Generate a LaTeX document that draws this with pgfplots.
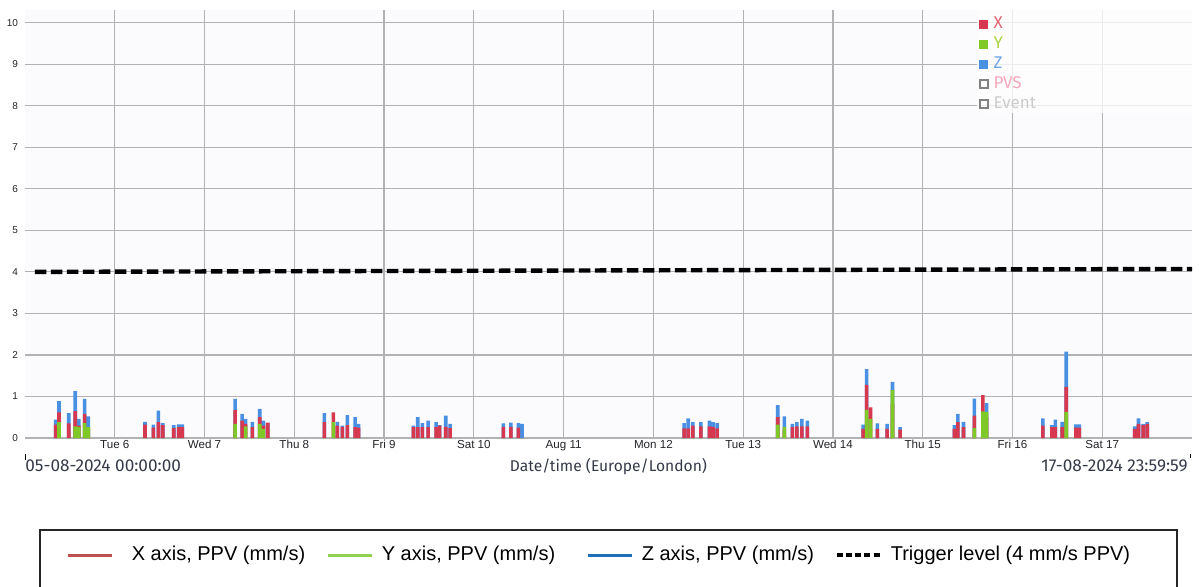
\documentclass[border=0pt]{standalone}
\usepackage{fontspec}
\setmainfont{Liberation Sans}
\newfontfamily\fira{Fira Sans}
\usepackage{pgfplots}
\pgfplotsset{compat=1.18}
\usepackage{pgfplotstable}

\definecolor{cX}{RGB}{214,56,80}
\definecolor{cY}{RGB}{126,200,40}
\definecolor{cZ}{RGB}{74,144,226}
\definecolor{tX}{RGB}{226,100,116}
\definecolor{tY}{RGB}{170,214,70}
\definecolor{tZ}{RGB}{112,166,230}
\definecolor{tP}{RGB}{244,166,186}
\definecolor{tE}{RGB}{204,204,204}
\definecolor{boxg}{RGB}{130,130,130}
\definecolor{gridc}{RGB}{178,178,178}
\definecolor{bgc}{RGB}{251,251,254}
\definecolor{tickc}{RGB}{35,35,40}
\definecolor{labc}{RGB}{52,58,72}
\definecolor{lX}{RGB}{192,80,77}
\definecolor{lY}{RGB}{146,208,80}
\definecolor{lZ}{RGB}{31,111,184}

\pgfplotstableread{
x X Y Z
0.342 0.32 0 0.44
0.379 0.62 0.38 0.89
0.487 0.35 0 0.60
0.560 0.65 0.28 1.13
0.600 0.30 0.27 0.46
0.665 0.58 0.36 0.94
0.705 0.24 0.26 0.52
1.337 0.32 0 0.39
1.430 0.25 0 0.32
1.485 0.38 0 0.66
1.534 0.31 0 0.36
1.657 0.24 0 0.31
1.712 0.26 0 0.33
1.752 0.26 0 0.33
2.340 0.67 0.34 0.94
2.418 0.42 0 0.58
2.458 0.34 0.28 0.46
2.533 0.26 0 0.39
2.615 0.50 0.34 0.70
2.655 0.30 0.22 0.42
2.704 0.37 0 0.36
3.335 0.38 0 0.60
3.435 0.62 0.38 0
3.480 0.30 0 0.39
3.535 0.27 0 0.30
3.591 0.31 0 0.55
3.677 0.26 0 0.50
3.717 0.25 0 0.34
4.326 0.26 0 0.30
4.375 0.26 0 0.50
4.427 0.26 0 0.36
4.490 0.26 0 0.42
4.579 0.26 0 0.38
4.619 0.30 0 0.31
4.687 0.27 0 0.54
4.735 0.24 0 0.34
5.329 0.27 0 0.35
5.412 0.27 0 0.37
5.496 0.25 0 0.36
5.536 0 0 0.34
7.343 0.23 0 0.36
7.388 0.23 0 0.47
7.440 0.30 0 0.38
7.529 0.28 0 0.38
7.625 0.28 0 0.42
7.665 0.27 0 0.38
7.710 0.23 0 0.36
8.385 0.50 0.32 0.79
8.460 0.20 0.27 0.52
8.549 0.26 0 0.34
8.598 0.28 0 0.38
8.654 0.28 0 0.46
8.716 0.28 0 0.42
9.337 0.22 0 0.32
9.375 1.28 0.68 1.66
9.420 0.74 0.46 0
9.496 0.22 0 0.35
9.604 0.22 0 0.34
9.664 0.83 1.15 1.35
9.749 0.20 0 0.26
10.354 0.22 0 0.31
10.392 0.38 0 0.58
10.455 0.26 0 0.39
10.576 0.54 0.24 0.95
10.671 1.03 0.64 0
10.711 0.50 0.63 0.84
11.339 0.30 0 0.47
11.440 0.26 0 0.31
11.478 0.26 0 0.44
11.554 0.26 0 0.39
11.599 1.23 0.63 2.08
11.707 0.25 0 0.33
11.745 0.25 0 0.33
12.360 0.22 0 0.28
12.404 0.34 0 0.47
12.456 0.31 0 0.34
12.501 0.34 0 0.38
}\bars

\begin{document}
\begin{tikzpicture}[x=1pt,y=1pt]
\useasboundingbox (0,0) rectangle (600,293);
\begin{axis}[
  at={(12.5pt,74pt)}, anchor=south west,
  scale only axis, width=583.5pt, height=213.9pt,
  xmin=0, xmax=13, ymin=0, ymax=10.3,
  xtick={1,...,12},
  xticklabels={Tue 6, Wed 7, Thu 8, Fri 9, Sat 10, Aug 11, Mon 12, Tue 13, Wed 14, Thu 15, Fri 16, Sat 17},
  ytick={0,...,10},
  grid=major,
  major grid style={gridc, line width=0.6pt},
  axis line style={draw=none},
  tick style={draw=none},
  axis background/.style={fill=bgc},
  x tick label style={font=\fontsize{5.8}{6}\selectfont, text=tickc, inner sep=1pt, anchor=north},
  y tick label style={font=\fontsize{5}{6}\selectfont, text=tickc},
  /pgf/number format/assume math mode=true,
  legend cell align=left,
  legend style={at={(axis description cs:0.8175,0.99)}, anchor=north west,
    draw=none, fill=none, inner sep=0pt,
    font=\fira\fontsize{8.5}{10}\selectfont, row sep=0.6pt,
    nodes={inner xsep=2.5pt, inner ysep=1pt}},
]
\addplot[ybar, bar width=0.04, bar shift=0pt, fill=cZ, draw=none, forget plot] table[x=x, y=Z]{\bars};
\addplot[ybar, bar width=0.04, bar shift=0pt, fill=cX, draw=none, forget plot] table[x=x, y=X]{\bars};
\addplot[ybar, bar width=0.04, bar shift=0pt, fill=cY, draw=none, forget plot] table[x=x, y=Y]{\bars};
\addplot[black, line width=2.2pt, dash pattern=on 5.8pt off 2.2pt, forget plot] coordinates {(0.11,4.0) (13,4.07)};
\fill[white, opacity=0.75] (rel axis cs:0.8158,1) rectangle (rel axis cs:1,0.760);
\addlegendimage{legend image code/.code={\fill[cX] (0pt,-2pt) rectangle (4pt,2pt);}}
\addlegendentry{\textcolor{tX}{X}}
\addlegendimage{legend image code/.code={\fill[cY] (0pt,-2pt) rectangle (4pt,2pt);}}
\addlegendentry{\textcolor{tY}{Y}}
\addlegendimage{legend image code/.code={\fill[cZ] (0pt,-2pt) rectangle (4pt,2pt);}}
\addlegendentry{\textcolor{tZ}{Z}}
\addlegendimage{legend image code/.code={\draw[boxg, line width=1pt] (0.3pt,-1.8pt) rectangle (3.9pt,1.8pt);}}
\addlegendentry{\textcolor{tP}{PVS}}
\addlegendimage{legend image code/.code={\draw[boxg, line width=1pt] (0.3pt,-1.8pt) rectangle (3.9pt,1.8pt);}}
\addlegendentry{\textcolor{tE}{Event}}
\end{axis}

\begin{axis}[
  at={(12.5pt,74pt)}, anchor=south west,
  scale only axis, width=583.5pt, height=213.9pt,
  hide axis, xmin=0, xmax=1, ymin=0, ymax=1,
  legend columns=4,
  legend style={at={(axis description cs:0.0355,-0.2735)}, anchor=west,
    draw=none, fill=none, inner sep=0pt,
    font=\fontsize{10}{12}\selectfont,
    /tikz/every odd column/.append style={column sep=4pt},
    nodes={inner sep=0pt}},
]
\addplot[draw=none, forget plot] coordinates {(0,0)};
\addlegendimage{legend image code/.code={\draw[lX, line width=1.5pt] (0pt,0pt) -- (22pt,0pt);}}
\addlegendentry{\makebox[102.5pt][l]{\hspace*{5pt}X axis, PPV (mm/s)}}
\addlegendimage{legend image code/.code={\draw[lY, line width=1.5pt] (0pt,0pt) -- (22pt,0pt);}}
\addlegendentry{\makebox[102.5pt][l]{Y axis, PPV (mm/s)}}
\addlegendimage{legend image code/.code={\draw[lZ, line width=1.5pt] (0pt,0pt) -- (22pt,0pt);}}
\addlegendentry{\makebox[96.5pt][l]{Z axis, PPV (mm/s)}}
\addlegendimage{legend image code/.code={\draw[black, line width=2pt, dash pattern=on 3pt off 1.6pt] (0pt,0pt) -- (22pt,0pt);}}
\addlegendentry{Trigger level (4 mm/s PPV)}
\end{axis}

\node[anchor=base west, inner sep=0pt, text=labc, font=\fira\fontsize{8.6}{10}\selectfont] at (12.5,57.5) {05-08-2024 00:00:00};
\node[anchor=base, inner sep=0pt, text=labc, font=\fira\fontsize{7.8}{10}\selectfont] at (304.25,57.5) {Date/time (Europe/London)};
\node[anchor=base east, inner sep=0pt, text=labc, font=\fira\fontsize{8.6}{10}\selectfont] at (594,57.5) {17-08-2024 23:59:59};
\draw[black, line width=0.5pt] (12.8,63) -- (12.8,66);
\draw[black, line width=0.5pt] (595.3,64) -- (595.3,66);
\draw[black!85, line width=0.6pt] (20,28) rectangle (588.5,-10);
\end{tikzpicture}
\end{document}
